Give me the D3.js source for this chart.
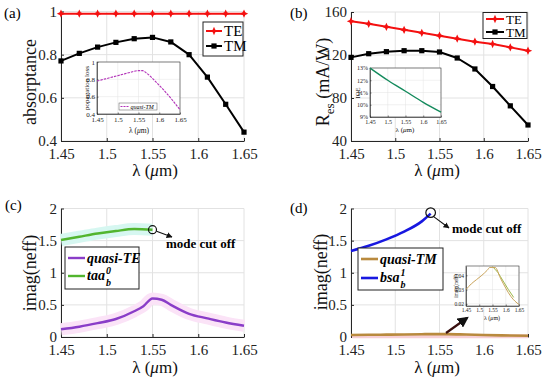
<!DOCTYPE html>
<html>
<head>
<meta charset="utf-8">
<script src="https://cdn.jsdelivr.net/npm/d3@7"></script>
<style>
  body { margin: 0; background: #fff; }
  svg, svg text { font-family: 'Liberation Serif', 'Times New Roman', 'DejaVu Serif', serif; }
</style>
</head>
<body>
<script>
(function () {
  'use strict';

  // ---------------------------------------------------------------
  // data
  // ---------------------------------------------------------------
  const lambda = [1.45, 1.47, 1.49, 1.51, 1.53, 1.55, 1.57, 1.59, 1.61, 1.63, 1.65];
  const waveTicks = [1.45, 1.5, 1.55, 1.6, 1.65];

  // (a) absorptance
  const absTE = [0.99, 0.99, 0.99, 0.99, 0.99, 0.99, 0.99, 0.99, 0.99, 0.99, 0.99];
  const absTM = [0.771, 0.806, 0.835, 0.857, 0.874, 0.880, 0.859, 0.800, 0.696, 0.570, 0.441];
  const absTicks = [0.4, 0.6, 0.8, 1];
  // (a) inset, propagation loss
  const lossX = [1.45, 1.47, 1.49, 1.51, 1.53, 1.55, 1.56, 1.57, 1.59, 1.61, 1.63, 1.65];
  const lossTM = [0.78, 0.805, 0.83, 0.855, 0.88, 0.9, 0.9, 0.87, 0.78, 0.68, 0.57, 0.45];

  // (b) responsivity
  const resTE = [151.4, 149, 146.2, 143.4, 140.6, 138, 135.2, 132.4, 130.3, 127.1, 124];
  const resTM = [117.8, 121.2, 123.1, 124, 124, 122.8, 117.2, 107, 90.7, 72.7, 54.9];
  const resTicks = [40, 80, 120, 160];
  // (b) inset, IQE in %
  const iqeX = [1.45, 1.5, 1.55, 1.6, 1.65];
  const iqe = [13.0, 12.0, 11.1, 10.2, 9.4];
  const iqeTicks = [9, 10, 11, 12, 13];

  // (c) imag(neff)
  const teX = [1.45, 1.47, 1.49, 1.51, 1.53, 1.54, 1.55, 1.56, 1.57, 1.59, 1.61, 1.63, 1.65];
  const teVal = [0.12, 0.16, 0.215, 0.28, 0.40, 0.48, 0.60, 0.58, 0.50, 0.36, 0.29, 0.225, 0.175];
  const taaX = [1.45, 1.47, 1.49, 1.51, 1.53, 1.55];
  const taaVal = [1.51, 1.56, 1.61, 1.65, 1.68, 1.67];
  const neffTicks = [0, 0.5, 1, 1.5, 2];

  // (d) imag(neff)
  const bsaX = [1.45, 1.47, 1.49, 1.51, 1.53, 1.54];
  const bsaVal = [1.34, 1.42, 1.52, 1.64, 1.80, 1.92];
  const tmX = [1.45, 1.47, 1.49, 1.51, 1.53, 1.54, 1.56, 1.58, 1.60, 1.62, 1.65];
  const tmVal = [0.030, 0.034, 0.037, 0.040, 0.0435, 0.0455, 0.0455, 0.038, 0.031, 0.025, 0.0195];
  const tm2X = [1.55, 1.57, 1.59, 1.61, 1.63];
  const tm2Val = [0.046, 0.042, 0.036, 0.030, 0.0245];
  const smallNeffTicks = [0.02, 0.03, 0.04];

  const FONT = "'Liberation Serif', 'Times New Roman', 'DejaVu Serif', serif";

  const svg = d3.select('body').append('svg')
    .attr('width', 550)
    .attr('height', 379)
    .attr('font-family', FONT);

  const defs = svg.append('defs');
  defs.append('marker')
    .attr('id', 'arrowThin')
    .attr('viewBox', '0 0 10 10')
    .attr('refX', 9).attr('refY', 5)
    .attr('markerWidth', 6).attr('markerHeight', 6)
    .attr('markerUnits', 'userSpaceOnUse')
    .attr('orient', 'auto')
    .append('path').attr('d', 'M0,0L10,5L0,10z').attr('fill', '#111');

  // ---------------------------------------------------------------
  // axes helper
  // ---------------------------------------------------------------
  function makeAxes(o) {
    const g = svg.append('g');
    const x = d3.scaleLinear().domain(o.xd).range([o.left, o.right]);
    const y = d3.scaleLinear().domain(o.yd).range([o.bottom, o.top]);

    if (o.box) {
      g.append('rect')
        .attr('x', o.left).attr('y', o.top)
        .attr('width', o.right - o.left).attr('height', o.bottom - o.top)
        .attr('fill', '#fff');
    }

    g.append('g').selectAll('line').data(o.xt).join('line')
      .attr('x1', d => x(d)).attr('x2', d => x(d))
      .attr('y1', o.top).attr('y2', o.bottom)
      .attr('stroke', '#e2e2e2').attr('stroke-width', o.gw || 1);
    g.append('g').selectAll('line').data(o.yt).join('line')
      .attr('x1', o.left).attr('x2', o.right)
      .attr('y1', d => y(d)).attr('y2', d => y(d))
      .attr('stroke', '#e2e2e2').attr('stroke-width', o.gw || 1);

    const xa = g.append('g')
      .attr('transform', `translate(0,${o.bottom})`)
      .call(d3.axisBottom(x).tickValues(o.xt).tickFormat(o.xf || (d => d))
        .tickSizeInner(-o.tl).tickSizeOuter(0).tickPadding(o.tp));
    const ya = g.append('g')
      .attr('transform', `translate(${o.left},0)`)
      .call(d3.axisLeft(y).tickValues(o.yt).tickFormat(o.yf || (d => d))
        .tickSizeInner(-o.tl).tickSizeOuter(0).tickPadding(o.tpy || o.tp - 2));

    [xa, ya].forEach(a => {
      a.attr('font-family', FONT).attr('font-size', o.fs);
      a.select('.domain').attr('stroke', '#262626').attr('stroke-width', o.aw || 1);
      a.selectAll('.tick line').attr('stroke', '#262626').attr('stroke-width', o.aw || 1);
      a.selectAll('.tick text').attr('fill', '#222');
    });

    if (o.box) {
      g.append('rect')
        .attr('x', o.left).attr('y', o.top)
        .attr('width', o.right - o.left).attr('height', o.bottom - o.top)
        .attr('fill', 'none').attr('stroke', '#333').attr('stroke-width', o.aw || 0.8);
    }
    return { g, x, y };
  }

  function lambdaLabel(parent, cx, cy, fs) {
    const t = parent.append('text')
      .attr('x', cx).attr('y', cy)
      .attr('text-anchor', 'middle')
      .attr('font-size', fs)
      .attr('fill', '#111');
    t.append('tspan').text('λ (');
    t.append('tspan').attr('font-style', 'italic').text('μ');
    t.append('tspan').text('m)');
    return t;
  }

  function yLabel(parent, cx, cy, fs, txt) {
    return parent.append('text')
      .attr('transform', `translate(${cx},${cy}) rotate(-90)`)
      .attr('text-anchor', 'middle')
      .attr('font-size', fs)
      .attr('fill', '#111')
      .text(txt);
  }

  function drawLine(g, xs, ys, xsc, ysc, color, width, curve) {
    const line = d3.line()
      .x((d, i) => xsc(xs[i]))
      .y(d => ysc(d))
      .curve(curve || d3.curveLinear);
    return g.append('path')
      .datum(ys)
      .attr('d', line)
      .attr('fill', 'none')
      .attr('stroke', color)
      .attr('stroke-width', width)
      .attr('stroke-linejoin', 'round');
  }

  const starPath = 'M0,-4.2L1.3,-1.3L4.2,0L1.3,1.3L0,4.2L-1.3,1.3L-4.2,0L-1.3,-1.3Z';

  const mainOpt = { xd: [1.45, 1.65], xt: waveTicks, tl: 3, tp: 7, tpy: 4, fs: 15 };

  // ===============================================================
  // (a) absorptance
  // ===============================================================
  const A = makeAxes(Object.assign({}, mainOpt, {
    left: 61, right: 244, top: 11.5, bottom: 141,
    yd: [0.4, 1], yt: absTicks
  }));

  drawLine(A.g, lambda, absTM, A.x, A.y, '#000', 2);
  A.g.append('g').selectAll('rect').data(absTM).join('rect')
    .attr('x', (d, i) => A.x(lambda[i]) - 2.6)
    .attr('y', d => A.y(d) - 2.6)
    .attr('width', 5.2).attr('height', 5.2)
    .attr('fill', '#000');
  drawLine(A.g, lambda, absTE, A.x, A.y, '#f41010', 2);
  A.g.append('g').selectAll('path').data(absTE).join('path')
    .attr('d', starPath)
    .attr('transform', (d, i) => `translate(${A.x(lambda[i])},${A.y(d)})`)
    .attr('fill', '#f41010');

  // legend (a)
  const legA = A.g.append('g');
  legA.append('rect').attr('x', 203).attr('y', 22).attr('width', 40).attr('height', 34)
    .attr('fill', '#fff').attr('stroke', '#222').attr('stroke-width', 1);
  legA.append('line').attr('x1', 206).attr('x2', 222).attr('y1', 31).attr('y2', 31)
    .attr('stroke', '#f41010').attr('stroke-width', 2);
  legA.append('path').attr('d', starPath).attr('transform', 'translate(214,31)').attr('fill', '#f41010');
  legA.append('text').attr('x', 224).attr('y', 36).attr('font-size', 15).text('TE');
  legA.append('line').attr('x1', 206).attr('x2', 222).attr('y1', 46).attr('y2', 46)
    .attr('stroke', '#000').attr('stroke-width', 2);
  legA.append('rect').attr('x', 211.4).attr('y', 43.4).attr('width', 5.2).attr('height', 5.2).attr('fill', '#000');
  legA.append('text').attr('x', 224).attr('y', 51).attr('font-size', 15).text('TM');

  yLabel(svg, 36, 82, 18, 'absorptance');
  lambdaLabel(svg, 155, 176, 17);
  svg.append('text').attr('x', 4).attr('y', 18).attr('font-size', 15).text('(a)');

  // inset (a)
  const IA = makeAxes({
    left: 97, right: 180, top: 62, bottom: 114,
    xd: [1.45, 1.65], xt: waveTicks, yd: [0.4, 1], yt: absTicks,
    tl: 1.5, tp: 3, tpy: 2, fs: 7, aw: 0.6, gw: 0.5, box: true
  });
  drawLine(IA.g, lossX, lossTM, IA.x, IA.y, '#b232b8', 1.1, d3.curveMonotoneX)
    .attr('stroke-dasharray', '2.5,1');
  IA.g.append('rect').attr('x', 119).attr('y', 103).attr('width', 38).attr('height', 7)
    .attr('fill', '#fff').attr('stroke', '#555').attr('stroke-width', 0.5);
  IA.g.append('line').attr('x1', 120.5).attr('x2', 129).attr('y1', 106.5).attr('y2', 106.5)
    .attr('stroke', '#b232b8').attr('stroke-width', 1).attr('stroke-dasharray', '2,1');
  IA.g.append('text').attr('x', 130.5).attr('y', 108.8).attr('font-size', 6)
    .attr('font-style', 'italic').text('quasi-TM');
  yLabel(svg, 89, 88, 7, 'popagation loss');
  lambdaLabel(svg, 139, 133, 7.5);

  // ===============================================================
  // (b) responsivity
  // ===============================================================
  const B = makeAxes(Object.assign({}, mainOpt, {
    left: 351, right: 528, top: 12, bottom: 141,
    yd: [40, 160], yt: resTicks
  }));

  drawLine(B.g, lambda, resTM, B.x, B.y, '#000', 2);
  B.g.append('g').selectAll('rect').data(resTM).join('rect')
    .attr('x', (d, i) => B.x(lambda[i]) - 2.6)
    .attr('y', d => B.y(d) - 2.6)
    .attr('width', 5.2).attr('height', 5.2)
    .attr('fill', '#000');
  drawLine(B.g, lambda, resTE, B.x, B.y, '#f41010', 2);
  B.g.append('g').selectAll('path').data(resTE).join('path')
    .attr('d', starPath)
    .attr('transform', (d, i) => `translate(${B.x(lambda[i])},${B.y(d)})`)
    .attr('fill', '#f41010');

  const legB = B.g.append('g');
  legB.append('rect').attr('x', 483).attr('y', 12.5).attr('width', 44).attr('height', 26)
    .attr('fill', '#fff').attr('stroke', '#222').attr('stroke-width', 1);
  legB.append('line').attr('x1', 486).attr('x2', 504).attr('y1', 19).attr('y2', 19)
    .attr('stroke', '#f41010').attr('stroke-width', 2);
  legB.append('path').attr('d', starPath).attr('transform', 'translate(495,19)').attr('fill', '#f41010');
  legB.append('text').attr('x', 506).attr('y', 23.5).attr('font-size', 13).text('TE');
  legB.append('line').attr('x1', 486).attr('x2', 504).attr('y1', 32).attr('y2', 32)
    .attr('stroke', '#000').attr('stroke-width', 2);
  legB.append('rect').attr('x', 492.4).attr('y', 29.4).attr('width', 5.2).attr('height', 5.2).attr('fill', '#000');
  legB.append('text').attr('x', 506).attr('y', 36.5).attr('font-size', 13).text('TM');

  const rl = svg.append('text')
    .attr('transform', 'translate(329,82) rotate(-90)')
    .attr('text-anchor', 'middle')
    .attr('font-size', 18)
    .attr('fill', '#111');
  rl.append('tspan').text('R');
  rl.append('tspan').attr('font-size', 13).attr('dy', 5).text('es');
  rl.append('tspan').attr('dy', -5).text(' (mA/W)');
  lambdaLabel(svg, 437, 176, 17);
  svg.append('text').attr('x', 290).attr('y', 18).attr('font-size', 15).text('(b)');

  // inset (b)
  const IB = makeAxes({
    left: 370, right: 441, top: 68, bottom: 117,
    xd: [1.45, 1.65], xt: waveTicks, yd: [9, 13], yt: iqeTicks, yf: d => d + '%',
    tl: 1.5, tp: 3, tpy: 2, fs: 6, aw: 0.6, gw: 0.5, box: true
  });
  drawLine(IB.g, iqeX, iqe, IB.x, IB.y, '#138a5c', 1.4, d3.curveMonotoneX);
  yLabel(svg, 360, 93, 6.5, 'IQE');
  lambdaLabel(svg, 405, 132, 7);

  // ===============================================================
  // (c) imag(neff), quasi-TE
  // ===============================================================
  const C = makeAxes(Object.assign({}, mainOpt, {
    left: 61, right: 244, top: 208.5, bottom: 337,
    yd: [0, 2], yt: neffTicks
  }));

  // faint highlight bands behind the curves
  drawLine(C.g, teX, teVal, C.x, C.y, '#fbe3f7', 12, d3.curveMonotoneX).attr('stroke-linecap', 'butt');
  drawLine(C.g, taaX, taaVal, C.x, C.y, '#d6f7f1', 12, d3.curveMonotoneX).attr('stroke-linecap', 'butt');
  drawLine(C.g, teX, teVal, C.x, C.y, '#8a3dc8', 2.4, d3.curveMonotoneX);
  drawLine(C.g, taaX, taaVal, C.x, C.y, '#52b52e', 2.4, d3.curveMonotoneX);

  const cutC = [C.x(taaX[taaX.length - 1]), C.y(taaVal[taaVal.length - 1])];
  C.g.append('circle').attr('cx', cutC[0]).attr('cy', cutC[1]).attr('r', 4)
    .attr('fill', 'none').attr('stroke', '#111').attr('stroke-width', 1.2);
  C.g.append('line').attr('x1', cutC[0] + 4).attr('y1', cutC[1] + 1.5)
    .attr('x2', 172).attr('y2', 237)
    .attr('stroke', '#111').attr('stroke-width', 1.1).attr('marker-end', 'url(#arrowThin)');
  C.g.append('text').attr('x', 166).attr('y', 248).attr('font-size', 13)
    .attr('font-weight', 'bold').text('mode cut off');

  const legC = C.g.append('g');
  legC.append('rect').attr('x', 65).attr('y', 247).attr('width', 74).attr('height', 42)
    .attr('fill', '#fff').attr('stroke', '#222').attr('stroke-width', 1);
  legC.append('line').attr('x1', 68).attr('x2', 85).attr('y1', 258).attr('y2', 258)
    .attr('stroke', '#8a3dc8').attr('stroke-width', 2.4);
  legC.append('text').attr('x', 87).attr('y', 263).attr('font-size', 14)
    .attr('font-weight', 'bold').attr('font-style', 'italic').text('quasi-TE');
  legC.append('line').attr('x1', 68).attr('x2', 85).attr('y1', 276).attr('y2', 276)
    .attr('stroke', '#52b52e').attr('stroke-width', 2.4);
  const taaT = legC.append('text').attr('x', 87).attr('y', 280).attr('font-size', 14)
    .attr('font-weight', 'bold').attr('font-style', 'italic').text('taa');
  const taaW = taaT.node().getComputedTextLength();
  legC.append('text').attr('x', 88 + taaW).attr('y', 274).attr('font-size', 10)
    .attr('font-weight', 'bold').attr('font-style', 'italic').text('0');
  legC.append('text').attr('x', 88 + taaW).attr('y', 286).attr('font-size', 10)
    .attr('font-weight', 'bold').attr('font-style', 'italic').text('b');

  yLabel(svg, 36, 273, 18, 'imag(neff)');
  lambdaLabel(svg, 155, 373, 17);
  svg.append('text').attr('x', 5).attr('y', 210).attr('font-size', 15).text('(c)');

  // ===============================================================
  // (d) imag(neff), quasi-TM
  // ===============================================================
  const D = makeAxes(Object.assign({}, mainOpt, {
    left: 351, right: 528, top: 208.5, bottom: 337,
    yd: [0, 2], yt: neffTicks
  }));

  D.g.append('line').attr('x1', 352).attr('x2', 528).attr('y1', D.y(0.012)).attr('y2', D.y(0.012))
    .attr('stroke', '#f6cfd6').attr('stroke-width', 4);
  drawLine(D.g, tmX, tmVal, D.x, D.y, '#b98a3e', 2.6, d3.curveMonotoneX);
  drawLine(D.g, bsaX, bsaVal, D.x, D.y, '#1818e0', 2.6, d3.curveMonotoneX);

  const cutD = [D.x(bsaX[bsaX.length - 1]), D.y(bsaVal[bsaVal.length - 1])];
  D.g.append('circle').attr('cx', cutD[0]).attr('cy', cutD[1] - 1).attr('r', 4.8)
    .attr('fill', 'none').attr('stroke', '#111').attr('stroke-width', 1.2);
  D.g.append('line').attr('x1', cutD[0] + 3).attr('y1', cutD[1] + 3)
    .attr('x2', 449).attr('y2', 228)
    .attr('stroke', '#111').attr('stroke-width', 1.1).attr('marker-end', 'url(#arrowThin)');
  D.g.append('text').attr('x', 452).attr('y', 233).attr('font-size', 13)
    .attr('font-weight', 'bold').text('mode cut off');

  const legD = D.g.append('g');
  legD.append('rect').attr('x', 358).attr('y', 248).attr('width', 85).attr('height', 42)
    .attr('fill', '#fff').attr('stroke', '#222').attr('stroke-width', 1);
  legD.append('line').attr('x1', 361).attr('x2', 378).attr('y1', 259).attr('y2', 259)
    .attr('stroke', '#b98a3e').attr('stroke-width', 2.6);
  legD.append('text').attr('x', 380).attr('y', 264).attr('font-size', 14)
    .attr('font-weight', 'bold').attr('font-style', 'italic').text('quasi-TM');
  legD.append('line').attr('x1', 361).attr('x2', 378).attr('y1', 278).attr('y2', 278)
    .attr('stroke', '#1818e0').attr('stroke-width', 2.6);
  const bsaT = legD.append('text').attr('x', 380).attr('y', 282).attr('font-size', 14)
    .attr('font-weight', 'bold').attr('font-style', 'italic').text('bsa');
  const bsaW = bsaT.node().getComputedTextLength();
  legD.append('text').attr('x', 381 + bsaW).attr('y', 276).attr('font-size', 10)
    .attr('font-weight', 'bold').attr('font-style', 'italic').text('1');
  legD.append('text').attr('x', 381 + bsaW).attr('y', 288).attr('font-size', 10)
    .attr('font-weight', 'bold').attr('font-style', 'italic').text('b');

  // arrow pointing at inset
  defs.append('marker')
    .attr('id', 'arrowThick')
    .attr('viewBox', '0 0 10 10')
    .attr('refX', 8).attr('refY', 5)
    .attr('markerWidth', 11).attr('markerHeight', 11)
    .attr('markerUnits', 'userSpaceOnUse')
    .attr('orient', 'auto')
    .append('path').attr('d', 'M0,0L10,5L0,10z').attr('fill', '#111');
  D.g.append('line').attr('x1', 446).attr('y1', 333).attr('x2', 467).attr('y2', 318)
    .attr('stroke', '#3a1010').attr('stroke-width', 2.2).attr('marker-end', 'url(#arrowThick)');

  yLabel(svg, 327, 272, 18, 'imag(neff)');
  lambdaLabel(svg, 437, 373, 17);
  svg.append('text').attr('x', 290).attr('y', 213).attr('font-size', 15).text('(d)');

  // inset (d)
  const ID = makeAxes({
    left: 466, right: 519, top: 266, bottom: 306,
    xd: [1.45, 1.65], xt: waveTicks, yd: [0.0185, 0.0465], yt: smallNeffTicks,
    tl: 1.5, tp: 2, tpy: 2, fs: 5.5, aw: 0.6, gw: 0.5, box: true
  });
  drawLine(ID.g, tm2X, tm2Val, ID.x, ID.y, '#9cb84a', 1, d3.curveMonotoneX);
  drawLine(ID.g, tmX, tmVal, ID.x, ID.y, '#c9a35a', 1, d3.curveMonotoneX);
  yLabel(svg, 458, 286, 5.5, 'imag(neff)');
  lambdaLabel(svg, 492, 320, 6);
})();
</script>
</body>
</html>
